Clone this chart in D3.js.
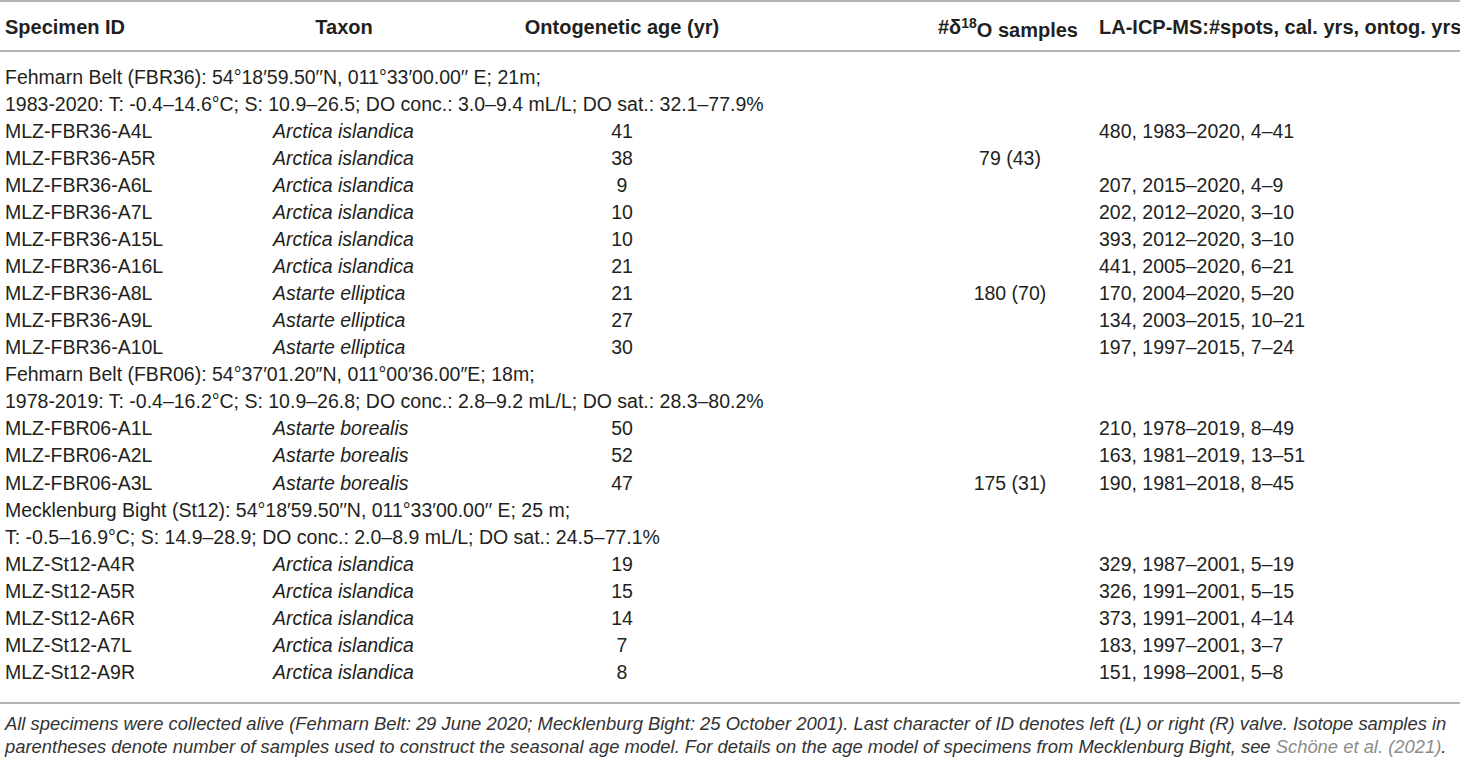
<!DOCTYPE html>
<html>
<head>
  <title>Specimen table</title>
  <script src="https://d3js.org/d3.v7.min.js"></script>
  <style>
    body { margin: 0; background: #fff; }
    text { font-family: "Liberation Sans", Arial, sans-serif; fill: #231f20; }
    .head { font-weight: bold; font-size: 20px; }
    .cell { font-size: 19.5px; }
    .note { font-size: 18.4px; font-style: italic; fill: #333; }
  </style>
</head>
<body>
  <svg id="table" width="1460" height="761"></svg>

  <script>
    // column headers
    var headers = ["Specimen ID", "Taxon", "Ontogenetic age (yr)", "#δ18O samples", "LA-ICP-MS:#spots, cal. yrs, ontog. yrs"];

    // site description lines (one pair per sampling site)
    var siteLines = [
      ["Fehmarn Belt (FBR36): 54°18′59.50′′N, 011°33′00.00′′ E; 21m;",
       "1983-2020: T: -0.4–14.6°C; S: 10.9–26.5; DO conc.: 3.0–9.4 mL/L; DO sat.: 32.1–77.9%"],
      ["Fehmarn Belt (FBR06): 54°37′01.20″N, 011°00′36.00″E; 18m;",
       "1978-2019: T: -0.4–16.2°C; S: 10.9–26.8; DO conc.: 2.8–9.2 mL/L; DO sat.: 28.3–80.2%"],
      ["Mecklenburg Bight (St12): 54°18′59.50′′N, 011°33′00.00′′ E; 25 m;",
       "T: -0.5–16.9°C; S: 14.9–28.9; DO conc.: 2.0–8.9 mL/L; DO sat.: 24.5–77.1%"]
    ];

    // specimens, grouped by site
    var specimenIds = [
      ["MLZ-FBR36-A4L", "MLZ-FBR36-A5R", "MLZ-FBR36-A6L", "MLZ-FBR36-A7L", "MLZ-FBR36-A15L",
       "MLZ-FBR36-A16L", "MLZ-FBR36-A8L", "MLZ-FBR36-A9L", "MLZ-FBR36-A10L"],
      ["MLZ-FBR06-A1L", "MLZ-FBR06-A2L", "MLZ-FBR06-A3L"],
      ["MLZ-St12-A4R", "MLZ-St12-A5R", "MLZ-St12-A6R", "MLZ-St12-A7L", "MLZ-St12-A9R"]
    ];
    var taxa = [
      ["Arctica islandica", "Arctica islandica", "Arctica islandica", "Arctica islandica", "Arctica islandica",
       "Arctica islandica", "Astarte elliptica", "Astarte elliptica", "Astarte elliptica"],
      ["Astarte borealis", "Astarte borealis", "Astarte borealis"],
      ["Arctica islandica", "Arctica islandica", "Arctica islandica", "Arctica islandica", "Arctica islandica"]
    ];
    var ages = [
      [41, 38, 9, 10, 10, 21, 21, 27, 30],
      [50, 52, 47],
      [19, 15, 14, 7, 8]
    ];
    var isotopeSamples = [
      ["", "79 (43)", "", "", "", "", "180 (70)", "", ""],
      ["", "", "175 (31)"],
      ["", "", "", "", ""]
    ];
    var laIcpMs = [
      ["480, 1983–2020, 4–41", "", "207, 2015–2020, 4–9", "202, 2012–2020, 3–10", "393, 2012–2020, 3–10",
       "441, 2005–2020, 6–21", "170, 2004–2020, 5–20", "134, 2003–2015, 10–21", "197, 1997–2015, 7–24"],
      ["210, 1978–2019, 8–49", "163, 1981–2019, 13–51", "190, 1981–2018, 8–45"],
      ["329, 1987–2001, 5–19", "326, 1991–2001, 5–15", "373, 1991–2001, 4–14", "183, 1997–2001, 3–7",
       "151, 1998–2001, 5–8"]
    ];

    var footnote = [
      "All specimens were collected alive (Fehmarn Belt: 29 June 2020; Mecklenburg Bight: 25 October 2001). Last character of ID denotes left (L) or right (R) valve. Isotope samples in",
      "parentheses denote number of samples used to construct the seasonal age model. For details on the age model of specimens from Mecklenburg Bight, see "
    ];
    var footnoteLink = "Schöne et al. (2021)";

    // flatten into display rows
    var rows = [];
    siteLines.forEach(function(lines, g) {
      lines.forEach(function(l) { rows.push({ type: "site", text: l }); });
      specimenIds[g].forEach(function(id, i) {
        rows.push({ type: "spec", id: id, taxon: taxa[g][i], age: ages[g][i],
                    iso: isotopeSamples[g][i], la: laIcpMs[g][i] });
      });
    });

    var width = 1460;
    var svg = d3.select("#table");

    var y = d3.scaleLinear()
      .domain([0, rows.length - 1])
      .range([77, 672]);

    // column anchors
    var col = {
      id: { x: 5, anchor: "start" },
      taxon: { x: 273, anchor: "start", hx: 344 },
      age: { x: 622, anchor: "middle" },
      iso: { x: 1010, anchor: "middle", hx: 1008 },
      la: { x: 1099, anchor: "start" }
    };

    function rule(yy) {
      svg.append("line")
        .attr("x1", 0).attr("x2", width)
        .attr("y1", yy).attr("y2", yy)
        .attr("stroke", "#b4b4b4")
        .attr("stroke-width", 2);
    }
    rule(1);
    rule(51);
    rule(703);

    // header
    var hy = 27;
    var hcols = [
      { x: col.id.x, a: "start" },
      { x: col.taxon.hx, a: "middle" },
      { x: col.age.x, a: "middle" },
      { x: col.iso.hx, a: "middle" },
      { x: col.la.x, a: "start" }
    ];
    headers.forEach(function(h, i) {
      var t = svg.append("text")
        .attr("class", "head")
        .attr("x", hcols[i].x)
        .attr("y", hy)
        .attr("dy", "0.35em")
        .attr("text-anchor", hcols[i].a);
      if (h.indexOf("18") >= 0) {
        var parts = h.split("18");
        t.append("tspan").text(parts[0]);
        t.append("tspan").attr("dy", "-0.45em").style("font-size", "14px").text("18");
        t.append("tspan").attr("dy", "0.45em").text(parts[1]);
      } else {
        t.text(h);
      }
    });

    // body
    var g = svg.selectAll("g.row")
      .data(rows)
      .enter().append("g")
      .attr("class", "row")
      .attr("transform", function(d, i) { return "translate(0," + y(i) + ")"; });

    g.filter(function(d) { return d.type === "site"; })
      .append("text")
      .attr("class", "cell")
      .attr("x", col.id.x)
      .attr("dy", "0.35em")
      .text(function(d) { return d.text; });

    var spec = g.filter(function(d) { return d.type === "spec"; });
    ["id", "taxon", "age", "iso", "la"].forEach(function(c) {
      spec.append("text")
        .attr("class", "cell")
        .attr("x", col[c].x)
        .attr("dy", "0.35em")
        .attr("text-anchor", col[c].anchor)
        .style("font-style", c === "taxon" ? "italic" : null)
        .text(function(d) { return d[c]; });
    });

    // footnote
    svg.append("text").attr("class", "note")
      .attr("x", 5).attr("y", 724).attr("dy", "0.35em")
      .text(footnote[0]);
    var f2 = svg.append("text").attr("class", "note")
      .attr("x", 5).attr("y", 747).attr("dy", "0.35em");
    f2.append("tspan").text(footnote[1]);
    f2.append("tspan").style("fill", "#8c8c8c").text(footnoteLink);
    f2.append("tspan").text(".");
  </script>
</body>
</html>
